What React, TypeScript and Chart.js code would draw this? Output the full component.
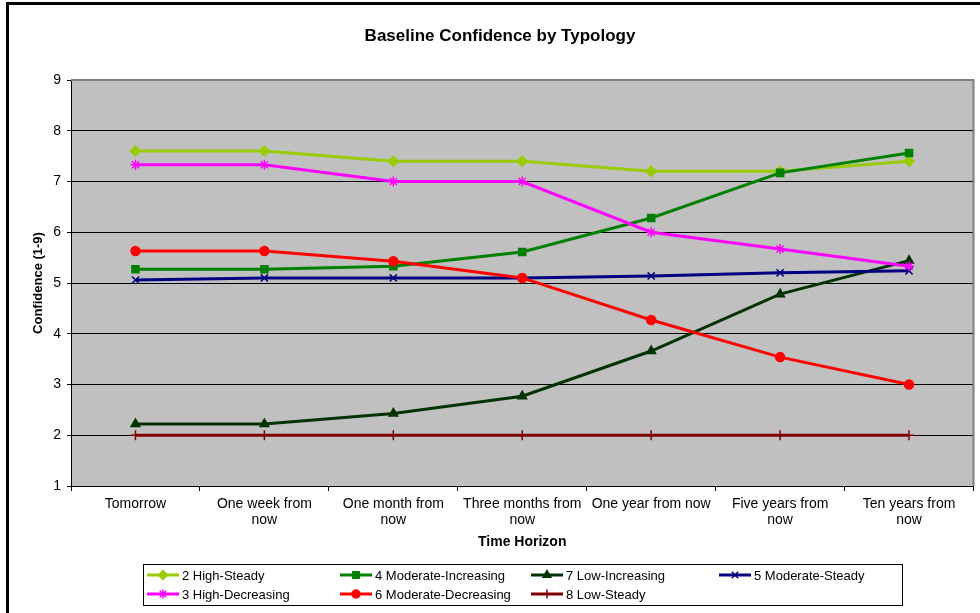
import React, { useEffect, useRef } from 'react';
import { Chart, registerables } from 'chart.js';
import { drawPoint } from 'chart.js/helpers';

Chart.register(...registerables);

const chartTitle = 'Baseline Confidence by Typology';
const xTitle = 'Time Horizon';
const yTitle = 'Confidence (1-9)';

const categories: string[][] = [
  ['Tomorrow'],
  ['One week from', 'now'],
  ['One month from', 'now'],
  ['Three months from', 'now'],
  ['One year from now'],
  ['Five years from', 'now'],
  ['Ten years from', 'now'],
];

const seriesNames = [
  '2 High-Steady',
  '4 Moderate-Increasing',
  '7 Low-Increasing',
  '5 Moderate-Steady',
  '3 High-Decreasing',
  '6 Moderate-Decreasing',
  '8 Low-Steady',
];

const highSteady = [7.6, 7.6, 7.4, 7.4, 7.2, 7.2, 7.4];
const moderateIncreasing = [5.27, 5.27, 5.33, 5.61, 6.28, 7.17, 7.56];
const lowIncreasing = [2.22, 2.22, 2.43, 2.77, 3.66, 4.78, 5.44];
const moderateSteady = [5.06, 5.1, 5.1, 5.1, 5.14, 5.2, 5.24];
const highDecreasing = [7.33, 7.33, 7.0, 7.0, 6.0, 5.67, 5.33];
const moderateDecreasing = [5.63, 5.63, 5.43, 5.1, 4.27, 3.54, 3.0];
const lowSteady = [2, 2, 2, 2, 2, 2, 2];

const yTicks = [1, 2, 3, 4, 5, 6, 7, 8, 9];

const seriesValues = [
  highSteady,
  moderateIncreasing,
  lowIncreasing,
  moderateSteady,
  highDecreasing,
  moderateDecreasing,
  lowSteady,
];
const seriesColors = ['#99CC00', '#008000', '#003300', '#000080', '#FF00FF', '#FF0000', '#800000'];
const seriesPointStyles = ['rectRot', 'rect', 'triangle', 'crossRot', 'star', 'circle', 'cross'];
const seriesPointRadius = [5, 5, 5, 5, 5, 4.5, 5];

const FONT = '"Liberation Sans", Arial, sans-serif';

const framePlugin = {
  id: 'frame',
  beforeDraw(chart: any) {
    const { ctx, chartArea } = chart;
    ctx.save();
    ctx.fillStyle = '#FFFFFF';
    ctx.fillRect(0, 0, chart.width, chart.height);
    ctx.fillStyle = '#C0C0C0';
    ctx.fillRect(chartArea.left, chartArea.top, chartArea.right - chartArea.left, chartArea.bottom - chartArea.top);
    ctx.strokeStyle = '#000000';
    ctx.lineWidth = 3;
    ctx.beginPath();
    ctx.moveTo(7.5, 2);
    ctx.lineTo(7.5, chart.height);
    ctx.moveTo(6, 3.5);
    ctx.lineTo(chart.width, 3.5);
    ctx.stroke();
    ctx.restore();
  },
  beforeDatasetsDraw(chart: any) {
    const { ctx, chartArea } = chart;
    ctx.save();
    ctx.strokeStyle = '#808080';
    ctx.lineWidth = 2;
    ctx.beginPath();
    ctx.moveTo(chartArea.left, chartArea.top);
    ctx.lineTo(chartArea.right, chartArea.top);
    ctx.lineTo(chartArea.right, chartArea.bottom);
    ctx.stroke();
    ctx.restore();
  },
  afterDraw(chart: any) {
    const { ctx } = chart;
    const boxL = 143, boxT = 564, boxR = 902, boxB = 605;
    const colX = [147, 340, 531, 719];
    const rowY = [575, 594];
    ctx.save();
    ctx.strokeStyle = '#000000';
    ctx.lineWidth = 1;
    ctx.strokeRect(boxL + 0.5, boxT + 0.5, boxR - boxL, boxB - boxT);
    ctx.font = '13px ' + FONT;
    ctx.textBaseline = 'middle';
    ctx.textAlign = 'left';
    chart.data.datasets.forEach((ds: any, i: number) => {
      const col = i < 4 ? i : i - 4;
      const row = i < 4 ? 0 : 1;
      const x = colX[col];
      const y = rowY[row];
      ctx.strokeStyle = ds.borderColor;
      ctx.lineWidth = 3;
      ctx.beginPath();
      ctx.moveTo(x, y);
      ctx.lineTo(x + 32, y);
      ctx.stroke();
      ctx.fillStyle = ds.pointBackgroundColor;
      ctx.strokeStyle = ds.pointBorderColor;
      ctx.lineWidth = ds.pointBorderWidth;
      drawPoint(ctx, { pointStyle: ds.pointStyle, radius: ds.pointRadius - 0.5, borderWidth: ds.pointBorderWidth, rotation: 0 }, x + 16, y);
      ctx.fillStyle = '#000000';
      ctx.fillText(ds.label, x + 35, y + 1);
    });
    ctx.restore();
  },
};

export default function App() {
  const canvasRef = useRef<HTMLCanvasElement | null>(null);

  useEffect(() => {
    if (!canvasRef.current) return;
    Chart.defaults.font.family = FONT;
    Chart.defaults.color = '#000000';
    const datasets = seriesValues.map((vals, i) => ({
      label: seriesNames[i],
      data: vals,
      borderColor: seriesColors[i],
      backgroundColor: seriesColors[i],
      pointBackgroundColor: seriesColors[i],
      pointBorderColor: seriesColors[i],
      pointStyle: seriesPointStyles[i],
      pointRadius: seriesPointRadius[i],
      pointBorderWidth: 1.5,
      borderWidth: 3,
      tension: 0,
      fill: false,
      order: -i,
    }));
    const chart = new Chart(canvasRef.current, {
      type: 'line',
      data: { labels: categories, datasets },
      plugins: [framePlugin],
      options: {
        animation: false,
        responsive: false,
        maintainAspectRatio: false,
        layout: { padding: { left: 25, right: 5, top: 0, bottom: 61 } },
        plugins: {
          legend: { display: false },
          tooltip: { enabled: false },
          title: {
            display: true,
            text: chartTitle,
            font: { size: 17, weight: 'bold', family: FONT, lineHeight: 1.2 },
            color: '#000000',
            padding: { top: 26, bottom: 33.6 },
          },
        },
        scales: {
          x: {
            type: 'category',
            offset: true,
            afterFit(scale: any) {
              scale.height = 66;
            },
            grid: {
              offset: true,
              drawOnChartArea: false,
              drawTicks: true,
              tickLength: 5,
              color: '#000000',
            },
            border: { display: true, color: '#000000', width: 1 },
            ticks: {
              autoSkip: false,
              maxRotation: 0,
              minRotation: 0,
              padding: 5,
              color: '#000000',
              font: { size: 14, family: FONT, lineHeight: 1.15 },
            },
            title: {
              display: true,
              text: xTitle,
              color: '#000000',
              font: { size: 14, weight: 'bold', family: FONT, lineHeight: 1.2 },
              padding: { top: 1, bottom: 1 },
            },
          },
          y: {
            min: yTicks[0],
            max: yTicks[yTicks.length - 1],
            afterFit(scale: any) {
              scale.width = 46;
            },
            afterBuildTicks(scale: any) {
              scale.ticks = yTicks.map((v) => ({ value: v }));
            },
            grid: {
              color: (c: any) => (c.tick && c.tick.value === 9 ? '#808080' : '#000000'),
              lineWidth: 1,
              drawTicks: true,
              tickLength: 4,
              tickColor: '#000000',
            },
            border: { display: true, color: '#000000', width: 1 },
            ticks: {
              stepSize: 1,
              padding: 6,
              color: '#000000',
              font: { size: 14, family: FONT },
            },
            title: {
              display: true,
              text: yTitle,
              color: '#000000',
              font: { size: 13, weight: 'bold', family: FONT, lineHeight: 1.2 },
              padding: { top: 6, bottom: 2 },
            },
          },
        },
      } as any,
    });
    return () => chart.destroy();
  }, []);

  return (
    <div style={{ position: 'absolute', left: 0, top: 0, width: 980, height: 613 }}>
      <canvas ref={canvasRef} width={980} height={613} style={{ display: 'block', width: 980, height: 613 }} />
    </div>
  );
}
